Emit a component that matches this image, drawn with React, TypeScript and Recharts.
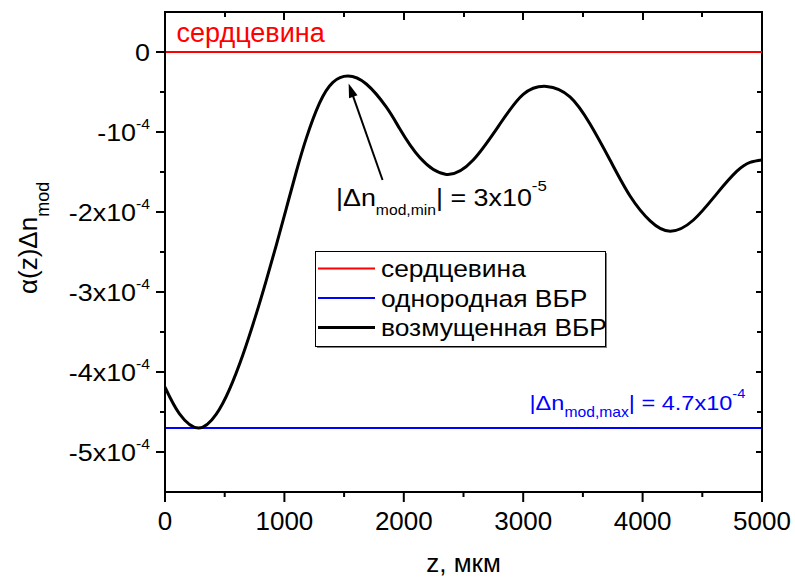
import React from 'react';
import { LineChart, Line, XAxis, YAxis, ReferenceLine, Customized } from 'recharts';

// ---- data ----
const zValues = [0, 120, 282, 428, 539, 651, 763, 847, 931, 1015, 1099, 1183, 1294, 1406, 1532, 1686, 1854, 1966, 2134, 2357, 2581, 2805, 3000, 3196, 3392, 3560, 3727, 3895, 4063, 4231, 4426, 4622, 4790, 4900, 5000];
const perturbedValues = [-4.19e-4, -4.52e-4, -4.70e-4, -4.53e-4, -4.22e-4, -3.79e-4, -3.28e-4, -2.86e-4, -2.42e-4, -1.96e-4, -1.50e-4, -1.08e-4, -0.64e-4, -0.38e-4, -0.30e-4, -0.40e-4, -0.69e-4, -0.96e-4, -1.32e-4, -1.53e-4, -1.35e-4, -0.90e-4, -0.53e-4, -0.43e-4, -0.56e-4, -0.90e-4, -1.35e-4, -1.80e-4, -2.11e-4, -2.24e-4, -2.10e-4, -1.77e-4, -1.49e-4, -1.38e-4, -1.35e-4];
const coreValue = 0;
const uniformValue = -4.7e-4;

const xTicks = [0, 500, 1000, 1500, 2000, 2500, 3000, 3500, 4000, 4500, 5000];
const yTicks = [-5e-4, -4.5e-4, -4e-4, -3.5e-4, -3e-4, -2.5e-4, -2e-4, -1.5e-4, -1e-4, -0.5e-4, 0];
const xDomain = [0, 5000];
const yDomain = [-5.5e-4, 0.5e-4];

const legendItems = [
  { name: 'сердцевина', color: '#ff0000', width: 2 },
  { name: 'однородная ВБР', color: '#0000ff', width: 2 },
  { name: 'возмущенная ВБР', color: '#000000', width: 3 },
];

// arrow annotation (data coords): tail -> tip
const arrowTail = { x: 1822, y: -1.60e-4 };
const arrowTip = { x: 1538, y: -0.395e-4 };

const data = zValues.map((z, i) => ({
  z,
  perturbed: perturbedValues[i],
  core: coreValue,
  uniform: uniformValue,
}));

// chart geometry
const CHART_W = 795;
const CHART_H = 577;
const MARGIN = { top: 12, right: 33, bottom: 0, left: 0 };
const Y_AXIS_W = 165;
const X_AXIS_H = 85;
const PLOT = {
  left: MARGIN.left + Y_AXIS_W,
  right: CHART_W - MARGIN.right,
  top: MARGIN.top,
  bottom: CHART_H - MARGIN.bottom - X_AXIS_H,
};
const px = (v: number) => PLOT.left + ((v - xDomain[0]) / (xDomain[1] - xDomain[0])) * (PLOT.right - PLOT.left);
const py = (v: number) => PLOT.top + ((yDomain[1] - v) / (yDomain[1] - yDomain[0])) * (PLOT.bottom - PLOT.top);

const FONT = '"Liberation Sans", Arial, sans-serif';

type Seg = { t: string; size: number; shift?: number };

function Rich({ x, y, segs, fill = '#000', anchor = 'start', sx = 1, rotate = false }: any) {
  let cur = 0;
  const spans = segs.map((s: Seg, i: number) => {
    const target = s.shift || 0;
    const dy = target - cur;
    cur = target;
    return (
      <tspan key={i} fontSize={s.size} dy={dy}>
        {s.t}
      </tspan>
    );
  });
  const transform = rotate
    ? `translate(${x},${y}) rotate(-90) scale(${sx},1)`
    : `translate(${x},${y}) scale(${sx},1)`;
  return (
    <text transform={transform} x={0} y={0} fill={fill} textAnchor={anchor} fontFamily={FONT} style={{ whiteSpace: 'pre' }}>
      {spans}
    </text>
  );
}

const isMajorY = (v: number) => Math.abs(v * 1e4 - Math.round(v * 1e4)) < 1e-6;
const isMajorX = (v: number) => v % 1000 === 0;

function yLabelSegs(v: number): Seg[] {
  const n = Math.round(v * 1e4);
  if (n === 0) return [{ t: '0', size: 24 }];
  const mant = n === -1 ? '-10' : `${n}x10`;
  return [
    { t: mant, size: 24 },
    { t: '-4', size: 14, shift: -12 },
  ];
}

const YTickLeft = (props: any) => {
  const { x, y, payload } = props;
  const major = isMajorY(payload.value);
  const len = major ? 9 : 5;
  return (
    <g>
      <line x1={x - len} x2={x} y1={y} y2={y} stroke="#000" strokeWidth={2} />
      {major && <Rich x={x - 15} y={y + 9} anchor="end" sx={1.12} segs={yLabelSegs(payload.value)} />}
    </g>
  );
};

const XTickBottom = (props: any) => {
  const { x, y, payload } = props;
  const major = isMajorX(payload.value);
  const len = major ? 10 : 5;
  return (
    <g>
      <line x1={x} x2={x} y1={y} y2={y + len} stroke="#000" strokeWidth={2} />
      {major && (
        <text x={x} y={y + 38} textAnchor="middle" fontSize={26} fontFamily={FONT} fill="#000">
          {payload.value}
        </text>
      )}
    </g>
  );
};

const ArrowShape = (props: any) => {
  const { x1, y1, x2, y2 } = props;
  const dx = x2 - x1;
  const dy = y2 - y1;
  const L = Math.sqrt(dx * dx + dy * dy);
  const ux = dx / L;
  const uy = dy / L;
  const head = 14;
  const half = 4.5;
  const bx = x2 - ux * head;
  const by = y2 - uy * head;
  const qx = -uy;
  const qy = ux;
  return (
    <g>
      <line x1={x1} y1={y1} x2={bx + ux * 2} y2={by + uy * 2} stroke="#000" strokeWidth={2} />
      <polygon
        points={`${x2},${y2} ${bx + qx * half},${by + qy * half} ${bx - qx * half},${by - qy * half}`}
        fill="#000"
      />
    </g>
  );
};

// top & right frame edges as HTML boxes (independent of SVG)
const FrameDivs = () => (
  <>
    <div
      style={{
        position: 'absolute',
        left: PLOT.left - 1,
        top: PLOT.top - 1,
        width: PLOT.right - PLOT.left + 2,
        height: 2,
        background: '#000',
        zIndex: 10,
      }}
    />
    <div
      style={{
        position: 'absolute',
        left: PLOT.right - 1,
        top: PLOT.top - 1,
        width: 2,
        height: PLOT.bottom - PLOT.top + 2,
        background: '#000',
        zIndex: 10,
      }}
    />
    {xTicks.map((v) => (
      <div
        key={`t${v}`}
        style={{
          position: 'absolute',
          left: px(v) - 1,
          top: PLOT.top,
          width: 2,
          height: isMajorX(v) ? 8 : 5,
          background: '#000',
          zIndex: 10,
        }}
      />
    ))}
    {yTicks.map((v) => (
      <div
        key={`r${v}`}
        style={{
          position: 'absolute',
          left: PLOT.right - (isMajorY(v) ? 6 : 5),
          top: py(v) - 1,
          width: isMajorY(v) ? 6 : 5,
          height: 2,
          background: v === 0 ? '#ff0000' : '#000',
          zIndex: 10,
        }}
      />
    ))}
  </>
);

const Annotations = () => (
  <g>
    {/* top & right frame also in svg */}
    <line x1={PLOT.left - 1} x2={PLOT.right + 1} y1={PLOT.top} y2={PLOT.top} stroke="#000" strokeWidth={2} />
    <line x1={PLOT.right} x2={PLOT.right} y1={PLOT.top} y2={PLOT.bottom + 1} stroke="#000" strokeWidth={2} />
    {/* red title */}
    <text x={176.5} y={42} fontSize={27} fontFamily={FONT} fill="#ff0000">
      сердцевина
    </text>
    {/* black annotation */}
    <Rich
      x={336}
      y={206}
      sx={1.12}
      segs={[
        { t: '|Δn', size: 24 },
        { t: 'mod,min', size: 14, shift: 9 },
        { t: '| = 3x10', size: 24 },
        { t: '-5', size: 15, shift: -15 },
      ]}
    />
    {/* blue annotation */}
    <Rich
      x={529.5}
      y={410}
      sx={1.12}
      fill="#0000ff"
      segs={[
        { t: '|Δn', size: 21 },
        { t: 'mod,max', size: 14, shift: 7 },
        { t: '| = 4.7x10', size: 21 },
        { t: '-4', size: 13, shift: -12 },
      ]}
    />
    {/* legend */}
    <rect x={317} y={253} width={290} height={95} fill="#808080" />
    <rect x={315.5} y={251.5} width={290} height={95} fill="#ffffff" stroke="#000" strokeWidth={1} />
    {legendItems.map((it, i) => {
      const cy = 268.5 + i * 29.5;
      return (
        <g key={it.name}>
          <line x1={318} x2={375} y1={cy} y2={cy} stroke={it.color} strokeWidth={it.width} />
          <Rich x={381} y={cy + 8.5} sx={1.1} segs={[{ t: it.name, size: 24 }]} />
        </g>
      );
    })}
    {/* axis titles */}
    <text x={463.5} y={572} textAnchor="middle" fontSize={26} fontFamily={FONT} fill="#000">
      z, мкм
    </text>
    <Rich
      x={37}
      y={294}
      rotate
      segs={[
        { t: 'α(z)Δn', size: 26 },
        { t: 'mod', size: 18, shift: 12 },
      ]}
    />
  </g>
);

export default function App() {
  return (
    <div style={{ position: 'absolute', left: 0, top: 0, width: CHART_W, height: CHART_H, background: '#fff' }}>
      <LineChart width={CHART_W} height={CHART_H} data={data} margin={MARGIN}>
        <XAxis
          dataKey="z"
          type="number"
          domain={xDomain}
          ticks={xTicks}
          interval={0}
          height={X_AXIS_H}
          tickSize={0}
          tickMargin={0}
          tickLine={false}
          axisLine={{ stroke: '#000', strokeWidth: 2 }}
          tick={XTickBottom}
          allowDataOverflow
        />
        <YAxis
          type="number"
          domain={yDomain}
          ticks={yTicks}
          interval={0}
          width={Y_AXIS_W}
          tickSize={0}
          tickMargin={0}
          tickLine={false}
          axisLine={{ stroke: '#000', strokeWidth: 2 }}
          tick={YTickLeft}
          allowDataOverflow
        />
        <Line dataKey="uniform" stroke="#0000ff" strokeWidth={2} dot={false} activeDot={false} isAnimationActive={false} type="linear" />
        <Line dataKey="perturbed" stroke="#000000" strokeWidth={3} dot={false} activeDot={false} isAnimationActive={false} type="natural" />
        <Line dataKey="core" stroke="#ff0000" strokeWidth={2} dot={false} activeDot={false} isAnimationActive={false} type="linear" />
        <ReferenceLine segment={[arrowTail, arrowTip]} shape={ArrowShape} ifOverflow="visible" />
        <Customized component={<Annotations />} />
      </LineChart>
      <FrameDivs />
    </div>
  );
}
